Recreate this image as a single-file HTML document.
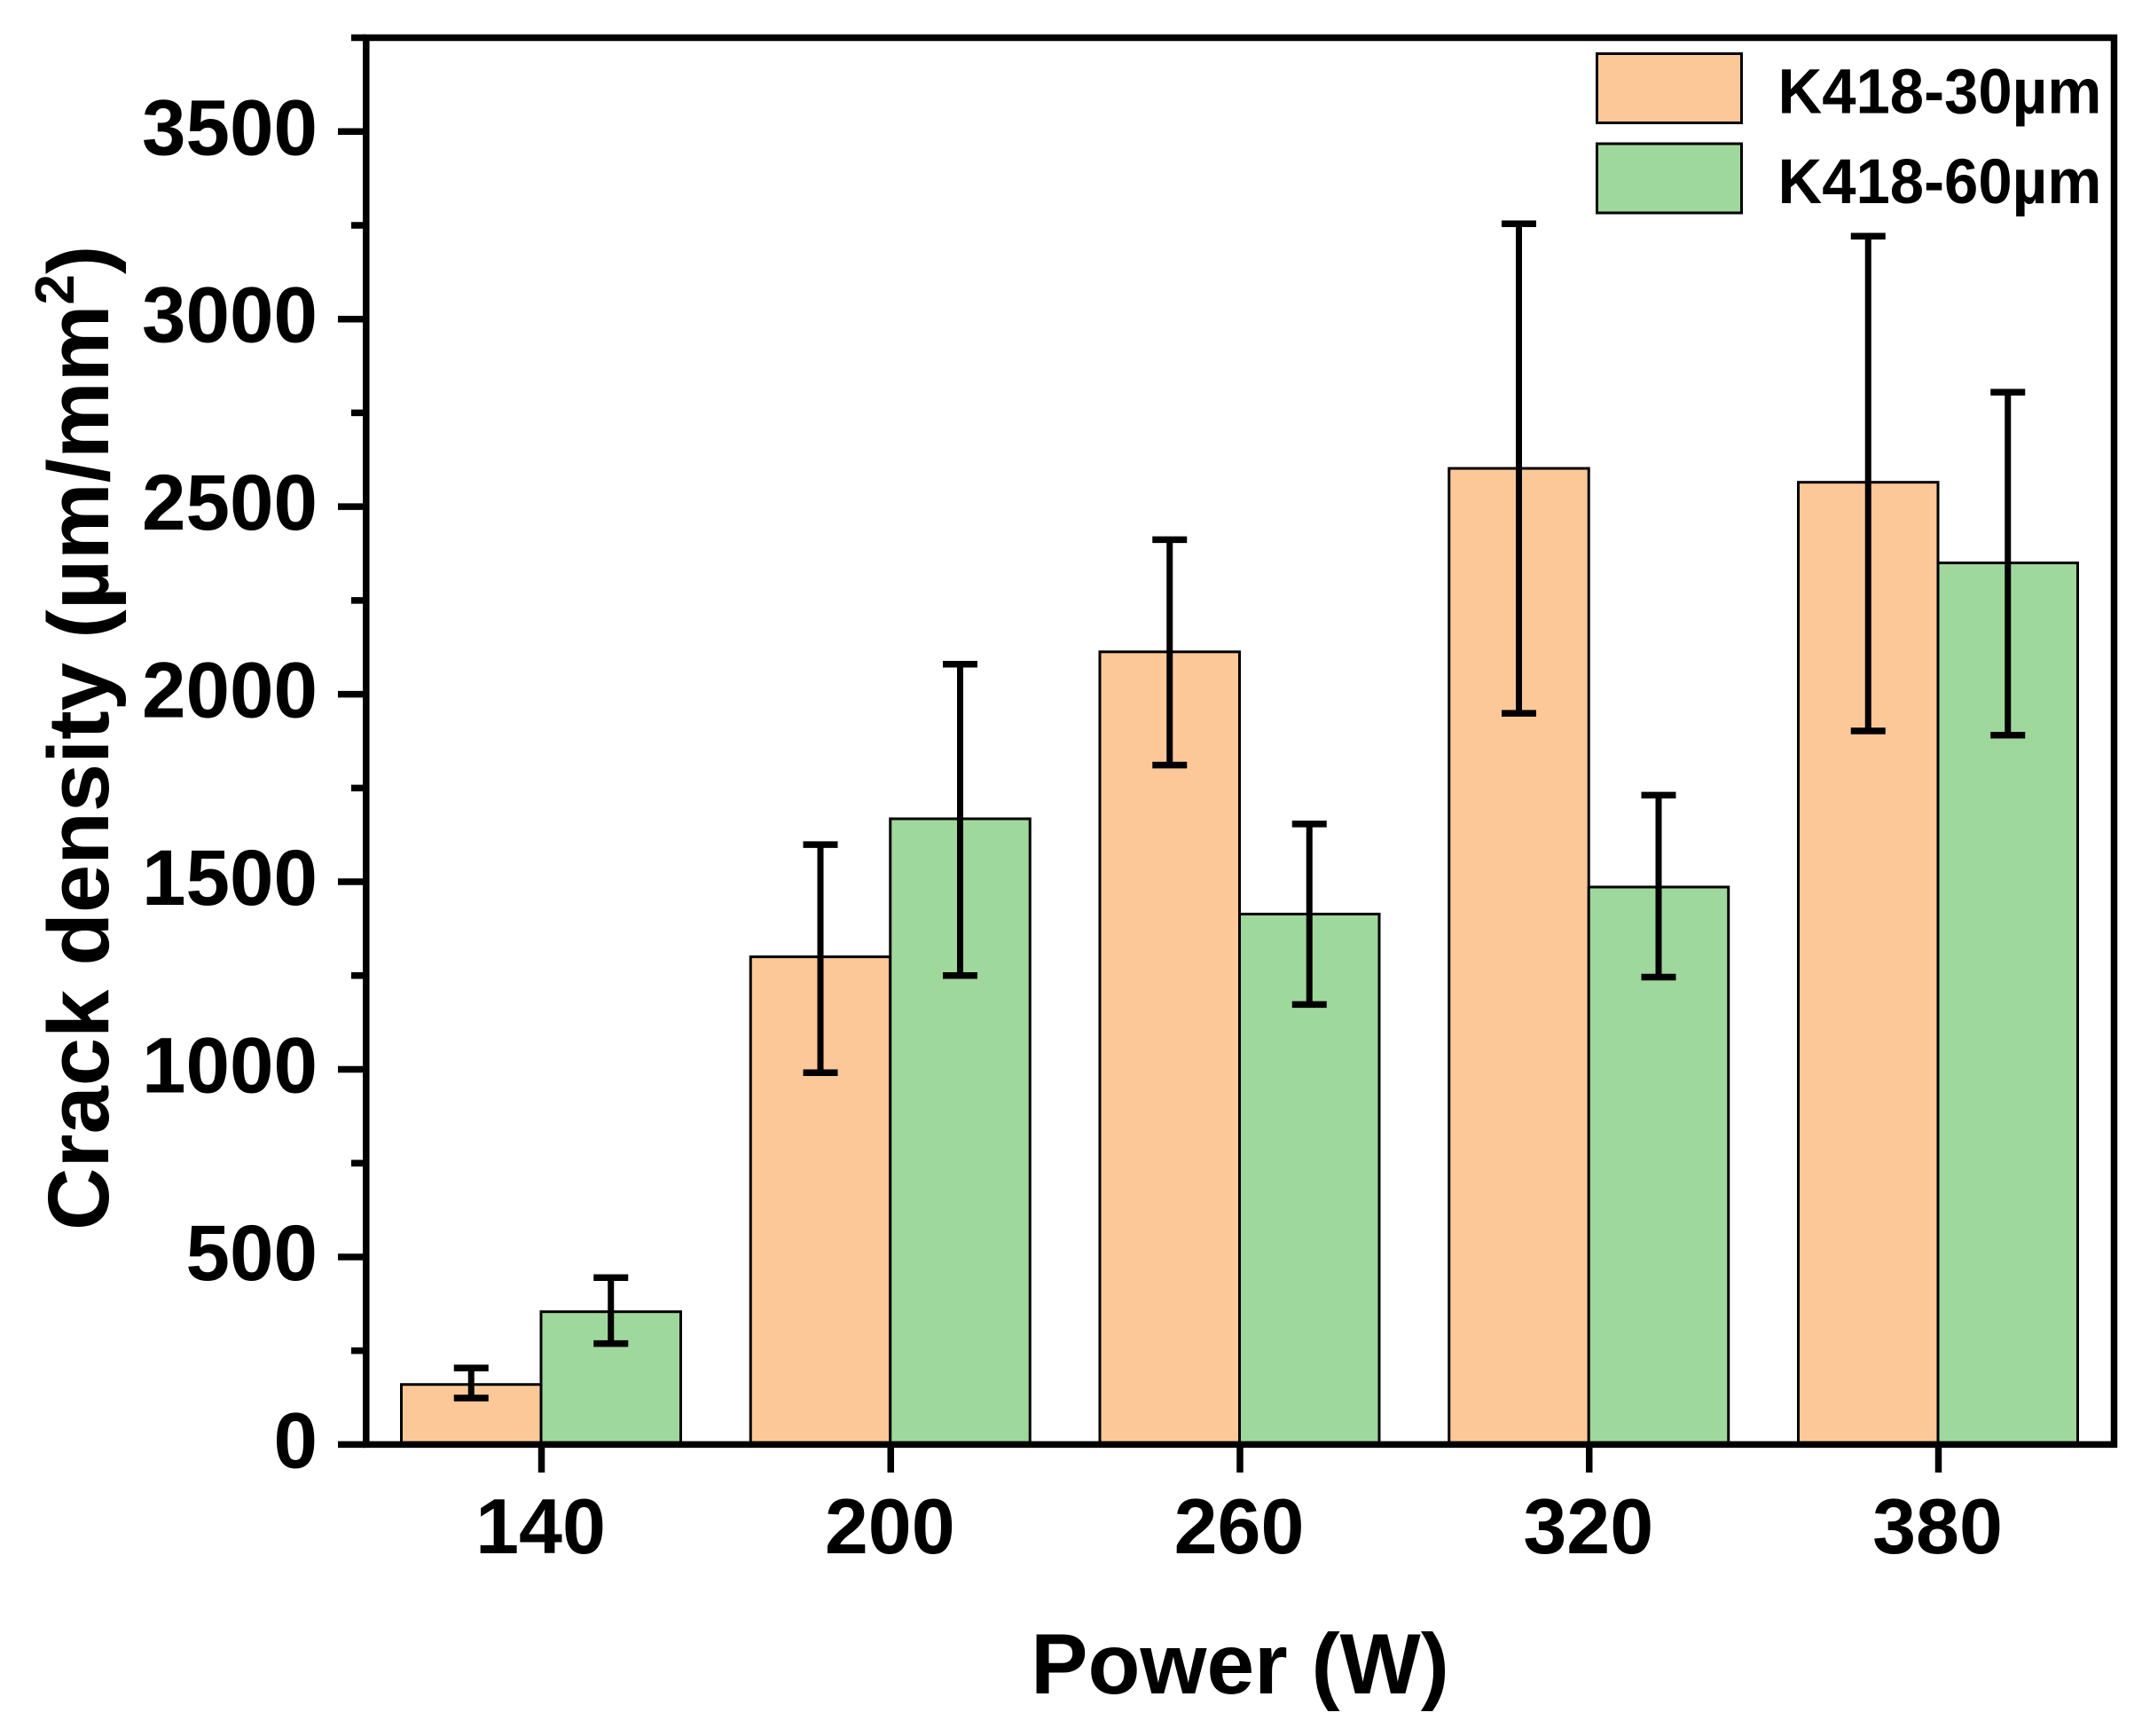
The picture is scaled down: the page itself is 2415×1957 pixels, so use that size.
<!DOCTYPE html>
<html lang="en">
<head>
<meta charset="utf-8">
<title>Crack density vs power</title>
<style>
html,body{margin:0;padding:0;background:#fff;width:2415px;height:1957px;overflow:hidden}
svg{display:block}
text{font-family:"Liberation Sans",Arial,sans-serif;font-weight:bold;fill:#000}
</style>
</head>
<body>
<svg id="chart" width="2415" height="1957" viewBox="0 0 2415 1957" xmlns="http://www.w3.org/2000/svg">
  <g id="bars"></g>
  <g id="errors"></g>
  <g id="axes"></g>
  <g id="legend">
    <rect x="1800.5" y="60.5" width="163" height="78" fill="#FCC898" stroke="#000" stroke-width="3"/>
    <text x="2004.5" y="127.5" font-size="71" textLength="365" lengthAdjust="spacingAndGlyphs">K418-30µm</text>
    <rect x="1800.5" y="162" width="163" height="78" fill="#9FD89C" stroke="#000" stroke-width="3"/>
    <text x="2004.5" y="229" font-size="71" textLength="365" lengthAdjust="spacingAndGlyphs">K418-60µm</text>
  </g>
  <text x="1398" y="1909" font-size="96.5" text-anchor="middle">Power (W)</text>
  <text transform="translate(122,1387) rotate(-90)" x="0" y="0" font-size="97.6">Crack density (µm/mm<tspan font-size="62" dy="-39">2</tspan><tspan dy="39">)</tspan></text>
</svg>
<script>
const categories = ['140', '200', '260', '320', '380'];
const series30 = [160, 1300, 2113, 2602, 2565];
const series60 = [354, 1668, 1414, 1486, 2350];
const errLow30 = [124, 991, 1811, 1949, 1902];
const errHigh30 = [204, 1599, 2412, 3254, 3221];
const errLow60 = [269, 1250, 1173, 1246, 1891];
const errHigh60 = [445, 2080, 1654, 1731, 2805];
const yMajorTicks = [0, 500, 1000, 1500, 2000, 2500, 3000, 3500];
const yMinorTicks = [250, 750, 1250, 1750, 2250, 2750, 3250, 3750];

const NS = 'http://www.w3.org/2000/svg';
const COLOR_30 = '#FCC898';
const COLOR_60 = '#9FD89C';
const BAR_W = 157.5;
function yScale(v) { return 1628.4 - v * 0.4229; }
function xScale(i) { return 610 + i * 393.75; }
function make(tag, attrs, parent) {
  const el = document.createElementNS(NS, tag);
  for (const k in attrs) el.setAttribute(k, attrs[k]);
  parent.appendChild(el);
  return el;
}
const barsG = document.getElementById('bars');
const errG = document.getElementById('errors');
const axesG = document.getElementById('axes');

function drawBars(values, offset, fill, label) {
  values.forEach(function (v, i) {
    const x = xScale(i) + offset;
    const top = yScale(v);
    const r = make('rect', { x: x, y: top, width: BAR_W, height: yScale(0) - top, fill: fill, stroke: '#000', 'stroke-width': 3 }, barsG);
    
    
  });
}
drawBars(series30, -BAR_W, COLOR_30, '30um');
drawBars(series60, 0, COLOR_60, '60um');

function drawErrors(lows, highs, offset, label) {
  lows.forEach(function (low, i) {
    const cx = xScale(i) + offset;
    const yl = yScale(low);
    const yh = yScale(highs[i]);
    const g = make('g', { stroke: '#000', fill: 'none' }, errG);
    
    
    make('line', { x1: cx, x2: cx, y1: yh, y2: yl, 'stroke-width': 7 }, g);
    make('line', { x1: cx - 19.5, x2: cx + 19.5, y1: yh, y2: yh, 'stroke-width': 7.5 }, g);
    make('line', { x1: cx - 19.5, x2: cx + 19.5, y1: yl, y2: yl, 'stroke-width': 7.5 }, g);
  });
}
drawErrors(errLow30, errHigh30, -BAR_W / 2, '30um');
drawErrors(errLow60, errHigh60, BAR_W / 2, '60um');

const AX_L = 412.8, AX_R = 2383.5, AX_T = yScale(3750), AX_B = yScale(0);
const frame = make('path', { d: 'M' + AX_L + ' ' + AX_T + 'H' + AX_R + 'V' + AX_B + 'H' + AX_L + 'Z', fill: 'none', stroke: '#000', 'stroke-width': 7.5, 'stroke-linecap': 'square' }, axesG);



yMajorTicks.forEach(function (v) {
  const y = yScale(v);
  const t = make('line', { x1: 381, x2: AX_L, y1: y, y2: y, stroke: '#000', 'stroke-width': 7.5 }, axesG);
  
  
  const l = make('text', { x: 358, y: y + 26, 'font-size': 89, 'text-anchor': 'end' }, axesG);
  
  
  l.textContent = String(v);
});
yMinorTicks.forEach(function (v) {
  const y = yScale(v);
  const t = make('line', { x1: 396, x2: AX_L, y1: y, y2: y, stroke: '#000', 'stroke-width': 7.5 }, axesG);
  
  
});
categories.forEach(function (c, i) {
  const x = xScale(i) + 0.5;
  const t = make('line', { x1: x, x2: x, y1: AX_B, y2: 1660, stroke: '#000', 'stroke-width': 7.5 }, axesG);
  
  
  const l = make('text', { x: x - 1, y: 1751, 'font-size': 88, 'text-anchor': 'middle' }, axesG);
  
  
  l.textContent = c;
});
</script>
</body>
</html>
